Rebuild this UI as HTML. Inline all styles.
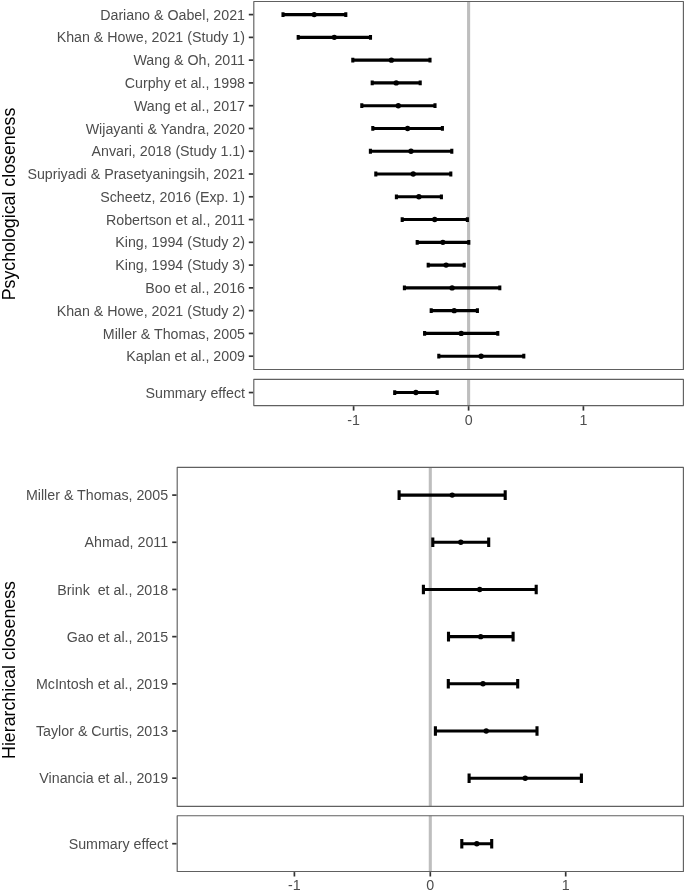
<!DOCTYPE html>
<html><head><meta charset="utf-8"><title>Forest plot</title>
<style>
html,body{margin:0;padding:0;background:#fff;}
svg{display:block;}
text{font-family:"Liberation Sans",Arial,sans-serif;}
.t{white-space:pre;font-size:14.24px;fill:#4d4d4d;}
.ti{font-size:17.8px;fill:#000;}
</style></head><body>
<svg width="685" height="892" viewBox="0 0 685 892">
<rect width="685" height="892" fill="#fff"/>
<line x1="468.6" y1="1.45" x2="468.6" y2="369.5" stroke="#bebebe" stroke-width="3.1"/>
<path d="M283.0 14.6H345.8M283.0 12.2V17.0M345.8 12.2V17.0" stroke="#000" stroke-width="3.1" fill="none"/>
<circle cx="314.2" cy="14.6" r="2.7" fill="#000"/>
<line x1="248.8" y1="14.6" x2="253.20000000000002" y2="14.6" stroke="#333333" stroke-width="1.7"/>
<text x="245.0" y="20" text-anchor="end" class="t" xml:space="preserve">Dariano &amp; Oabel, 2021</text>
<path d="M298.2 37.373H370.5M298.2 34.973V39.772999999999996M370.5 34.973V39.772999999999996" stroke="#000" stroke-width="3.1" fill="none"/>
<circle cx="334.3" cy="37.373" r="2.7" fill="#000"/>
<line x1="248.8" y1="37.373" x2="253.20000000000002" y2="37.373" stroke="#333333" stroke-width="1.7"/>
<text x="245.0" y="42" text-anchor="end" class="t" xml:space="preserve">Khan &amp; Howe, 2021 (Study 1)</text>
<path d="M352.8 60.146H430.0M352.8 57.746V62.546M430.0 57.746V62.546" stroke="#000" stroke-width="3.1" fill="none"/>
<circle cx="391.4" cy="60.146" r="2.7" fill="#000"/>
<line x1="248.8" y1="60.146" x2="253.20000000000002" y2="60.146" stroke="#333333" stroke-width="1.7"/>
<text x="245.0" y="65" text-anchor="end" class="t" xml:space="preserve">Wang &amp; Oh, 2011</text>
<path d="M372.2 82.919H420.2M372.2 80.51899999999999V85.319M420.2 80.51899999999999V85.319" stroke="#000" stroke-width="3.1" fill="none"/>
<circle cx="396.2" cy="82.919" r="2.7" fill="#000"/>
<line x1="248.8" y1="82.919" x2="253.20000000000002" y2="82.919" stroke="#333333" stroke-width="1.7"/>
<text x="245.0" y="88" text-anchor="end" class="t" xml:space="preserve">Curphy et al., 1998</text>
<path d="M361.8 105.692H435.0M361.8 103.29199999999999V108.092M435.0 103.29199999999999V108.092" stroke="#000" stroke-width="3.1" fill="none"/>
<circle cx="398.3" cy="105.692" r="2.7" fill="#000"/>
<line x1="248.8" y1="105.692" x2="253.20000000000002" y2="105.692" stroke="#333333" stroke-width="1.7"/>
<text x="245.0" y="111" text-anchor="end" class="t" xml:space="preserve">Wang et al., 2017</text>
<path d="M372.8 128.465H442.4M372.8 126.065V130.865M442.4 126.065V130.865" stroke="#000" stroke-width="3.1" fill="none"/>
<circle cx="407.6" cy="128.465" r="2.7" fill="#000"/>
<line x1="248.8" y1="128.465" x2="253.20000000000002" y2="128.465" stroke="#333333" stroke-width="1.7"/>
<text x="245.0" y="134" text-anchor="end" class="t" xml:space="preserve">Wijayanti &amp; Yandra, 2020</text>
<path d="M370.4 151.238H451.8M370.4 148.838V153.638M451.8 148.838V153.638" stroke="#000" stroke-width="3.1" fill="none"/>
<circle cx="411.0" cy="151.238" r="2.7" fill="#000"/>
<line x1="248.8" y1="151.238" x2="253.20000000000002" y2="151.238" stroke="#333333" stroke-width="1.7"/>
<text x="245.0" y="156" text-anchor="end" class="t" xml:space="preserve">Anvari, 2018 (Study 1.1)</text>
<path d="M375.8 174.011H450.8M375.8 171.611V176.411M450.8 171.611V176.411" stroke="#000" stroke-width="3.1" fill="none"/>
<circle cx="413.2" cy="174.011" r="2.7" fill="#000"/>
<line x1="248.8" y1="174.011" x2="253.20000000000002" y2="174.011" stroke="#333333" stroke-width="1.7"/>
<text x="245.0" y="179" text-anchor="end" class="t" xml:space="preserve">Supriyadi &amp; Prasetyaningsih, 2021</text>
<path d="M396.4 196.784H441.4M396.4 194.384V199.184M441.4 194.384V199.184" stroke="#000" stroke-width="3.1" fill="none"/>
<circle cx="418.9" cy="196.784" r="2.7" fill="#000"/>
<line x1="248.8" y1="196.784" x2="253.20000000000002" y2="196.784" stroke="#333333" stroke-width="1.7"/>
<text x="245.0" y="202" text-anchor="end" class="t" xml:space="preserve">Scheetz, 2016 (Exp. 1)</text>
<path d="M402.2 219.557H467.4M402.2 217.15699999999998V221.957M467.4 217.15699999999998V221.957" stroke="#000" stroke-width="3.1" fill="none"/>
<circle cx="434.7" cy="219.557" r="2.7" fill="#000"/>
<line x1="248.8" y1="219.557" x2="253.20000000000002" y2="219.557" stroke="#333333" stroke-width="1.7"/>
<text x="245.0" y="225" text-anchor="end" class="t" xml:space="preserve">Robertson et al., 2011</text>
<path d="M417.2 242.32999999999998H468.8M417.2 239.92999999999998V244.73M468.8 239.92999999999998V244.73" stroke="#000" stroke-width="3.1" fill="none"/>
<circle cx="442.9" cy="242.32999999999998" r="2.7" fill="#000"/>
<line x1="248.8" y1="242.32999999999998" x2="253.20000000000002" y2="242.32999999999998" stroke="#333333" stroke-width="1.7"/>
<text x="245.0" y="247" text-anchor="end" class="t" xml:space="preserve">King, 1994 (Study 2)</text>
<path d="M428.2 265.103H464.2M428.2 262.70300000000003V267.503M464.2 262.70300000000003V267.503" stroke="#000" stroke-width="3.1" fill="none"/>
<circle cx="446.1" cy="265.103" r="2.7" fill="#000"/>
<line x1="248.8" y1="265.103" x2="253.20000000000002" y2="265.103" stroke="#333333" stroke-width="1.7"/>
<text x="245.0" y="270" text-anchor="end" class="t" xml:space="preserve">King, 1994 (Study 3)</text>
<path d="M404.4 287.87600000000003H499.8M404.4 285.47600000000006V290.276M499.8 285.47600000000006V290.276" stroke="#000" stroke-width="3.1" fill="none"/>
<circle cx="452.1" cy="287.87600000000003" r="2.7" fill="#000"/>
<line x1="248.8" y1="287.87600000000003" x2="253.20000000000002" y2="287.87600000000003" stroke="#333333" stroke-width="1.7"/>
<text x="245.0" y="293" text-anchor="end" class="t" xml:space="preserve">Boo et al., 2016</text>
<path d="M431.2 310.649H477.4M431.2 308.249V313.049M477.4 308.249V313.049" stroke="#000" stroke-width="3.1" fill="none"/>
<circle cx="454.2" cy="310.649" r="2.7" fill="#000"/>
<line x1="248.8" y1="310.649" x2="253.20000000000002" y2="310.649" stroke="#333333" stroke-width="1.7"/>
<text x="245.0" y="316" text-anchor="end" class="t" xml:space="preserve">Khan &amp; Howe, 2021 (Study 2)</text>
<path d="M424.6 333.422H497.8M424.6 331.02200000000005V335.822M497.8 331.02200000000005V335.822" stroke="#000" stroke-width="3.1" fill="none"/>
<circle cx="461.2" cy="333.422" r="2.7" fill="#000"/>
<line x1="248.8" y1="333.422" x2="253.20000000000002" y2="333.422" stroke="#333333" stroke-width="1.7"/>
<text x="245.0" y="339" text-anchor="end" class="t" xml:space="preserve">Miller &amp; Thomas, 2005</text>
<path d="M438.8 356.195H523.8M438.8 353.795V358.59499999999997M523.8 353.795V358.59499999999997" stroke="#000" stroke-width="3.1" fill="none"/>
<circle cx="481.1" cy="356.195" r="2.7" fill="#000"/>
<line x1="248.8" y1="356.195" x2="253.20000000000002" y2="356.195" stroke="#333333" stroke-width="1.7"/>
<text x="245.0" y="361" text-anchor="end" class="t" xml:space="preserve">Kaplan et al., 2009</text>
<rect x="253.8" y="1.45" width="429.59999999999997" height="368.05" fill="none" stroke-linejoin="round" stroke="#606060" stroke-width="1.15"/>
<line x1="468.6" y1="379.4" x2="468.6" y2="405.6" stroke="#bebebe" stroke-width="3.1"/>
<path d="M394.7 392.55H437.2M394.7 390.15000000000003V394.95M437.2 390.15000000000003V394.95" stroke="#000" stroke-width="3.1" fill="none"/>
<circle cx="415.9" cy="392.55" r="2.7" fill="#000"/>
<line x1="248.8" y1="392.55" x2="253.20000000000002" y2="392.55" stroke="#333333" stroke-width="1.7"/>
<text x="245.0" y="398" text-anchor="end" class="t" xml:space="preserve">Summary effect</text>
<rect x="253.8" y="379.4" width="429.59999999999997" height="26.200000000000045" fill="none" stroke-linejoin="round" stroke="#606060" stroke-width="1.15"/>
<line x1="353.6" y1="406.2" x2="353.6" y2="410.6" stroke="#333333" stroke-width="1.7"/>
<text x="353.6" y="425.3" text-anchor="middle" class="t">-1</text>
<line x1="468.6" y1="406.2" x2="468.6" y2="410.6" stroke="#333333" stroke-width="1.7"/>
<text x="468.6" y="425.3" text-anchor="middle" class="t">0</text>
<line x1="583.4" y1="406.2" x2="583.4" y2="410.6" stroke="#333333" stroke-width="1.7"/>
<text x="583.4" y="425.3" text-anchor="middle" class="t">1</text>
<text transform="translate(14.6,204.0) rotate(-90)" text-anchor="middle" class="ti">Psychological closeness</text>
<line x1="430.3" y1="467.4" x2="430.3" y2="806.4" stroke="#bebebe" stroke-width="3.1"/>
<path d="M399.1 495.1H505.2M399.1 490.3V499.90000000000003M505.2 490.3V499.90000000000003" stroke="#000" stroke-width="3.1" fill="none"/>
<circle cx="452.2" cy="495.1" r="2.7" fill="#000"/>
<line x1="172.2" y1="495.1" x2="176.6" y2="495.1" stroke="#333333" stroke-width="1.7"/>
<text x="168.1" y="500" text-anchor="end" class="t" xml:space="preserve">Miller &amp; Thomas, 2005</text>
<path d="M432.8 542.28H488.7M432.8 537.48V547.0799999999999M488.7 537.48V547.0799999999999" stroke="#000" stroke-width="3.1" fill="none"/>
<circle cx="460.8" cy="542.28" r="2.7" fill="#000"/>
<line x1="172.2" y1="542.28" x2="176.6" y2="542.28" stroke="#333333" stroke-width="1.7"/>
<text x="168.1" y="547" text-anchor="end" class="t" xml:space="preserve">Ahmad, 2011</text>
<path d="M423.4 589.46H536.2M423.4 584.6600000000001V594.26M536.2 584.6600000000001V594.26" stroke="#000" stroke-width="3.1" fill="none"/>
<circle cx="479.7" cy="589.46" r="2.7" fill="#000"/>
<line x1="172.2" y1="589.46" x2="176.6" y2="589.46" stroke="#333333" stroke-width="1.7"/>
<text x="168.1" y="595" text-anchor="end" class="t" xml:space="preserve">Brink  et al., 2018</text>
<path d="M448.5 636.64H513.1M448.5 631.84V641.4399999999999M513.1 631.84V641.4399999999999" stroke="#000" stroke-width="3.1" fill="none"/>
<circle cx="480.7" cy="636.64" r="2.7" fill="#000"/>
<line x1="172.2" y1="636.64" x2="176.6" y2="636.64" stroke="#333333" stroke-width="1.7"/>
<text x="168.1" y="642" text-anchor="end" class="t" xml:space="preserve">Gao et al., 2015</text>
<path d="M448.3 683.82H517.7M448.3 679.0200000000001V688.62M517.7 679.0200000000001V688.62" stroke="#000" stroke-width="3.1" fill="none"/>
<circle cx="483.0" cy="683.82" r="2.7" fill="#000"/>
<line x1="172.2" y1="683.82" x2="176.6" y2="683.82" stroke="#333333" stroke-width="1.7"/>
<text x="168.1" y="689" text-anchor="end" class="t" xml:space="preserve">McIntosh et al., 2019</text>
<path d="M435.4 731.0H537.0M435.4 726.2V735.8M537.0 726.2V735.8" stroke="#000" stroke-width="3.1" fill="none"/>
<circle cx="486.2" cy="731.0" r="2.7" fill="#000"/>
<line x1="172.2" y1="731.0" x2="176.6" y2="731.0" stroke="#333333" stroke-width="1.7"/>
<text x="168.1" y="736" text-anchor="end" class="t" xml:space="preserve">Taylor &amp; Curtis, 2013</text>
<path d="M469.1 778.1800000000001H581.4M469.1 773.3800000000001V782.98M581.4 773.3800000000001V782.98" stroke="#000" stroke-width="3.1" fill="none"/>
<circle cx="525.2" cy="778.1800000000001" r="2.7" fill="#000"/>
<line x1="172.2" y1="778.1800000000001" x2="176.6" y2="778.1800000000001" stroke="#333333" stroke-width="1.7"/>
<text x="168.1" y="783" text-anchor="end" class="t" xml:space="preserve">Vinancia et al., 2019</text>
<rect x="177.2" y="467.4" width="506.2" height="339.0" fill="none" stroke-linejoin="round" stroke="#606060" stroke-width="1.15"/>
<line x1="430.3" y1="815.7" x2="430.3" y2="871.5" stroke="#bebebe" stroke-width="3.1"/>
<path d="M461.8 843.7H491.7M461.8 838.9000000000001V848.5M491.7 838.9000000000001V848.5" stroke="#000" stroke-width="3.1" fill="none"/>
<circle cx="476.8" cy="843.7" r="2.7" fill="#000"/>
<line x1="172.2" y1="843.7" x2="176.6" y2="843.7" stroke="#333333" stroke-width="1.7"/>
<text x="168.1" y="849" text-anchor="end" class="t" xml:space="preserve">Summary effect</text>
<rect x="177.2" y="815.7" width="506.2" height="55.799999999999955" fill="none" stroke-linejoin="round" stroke="#606060" stroke-width="1.15"/>
<line x1="294.4" y1="872.1" x2="294.4" y2="876.5" stroke="#333333" stroke-width="1.7"/>
<text x="294.4" y="890.2" text-anchor="middle" class="t">-1</text>
<line x1="430.3" y1="872.1" x2="430.3" y2="876.5" stroke="#333333" stroke-width="1.7"/>
<text x="430.3" y="890.2" text-anchor="middle" class="t">0</text>
<line x1="565.7" y1="872.1" x2="565.7" y2="876.5" stroke="#333333" stroke-width="1.7"/>
<text x="565.7" y="890.2" text-anchor="middle" class="t">1</text>
<text transform="translate(14.6,670.0) rotate(-90)" text-anchor="middle" class="ti">Hierarchical closeness</text>
</svg></body></html>
